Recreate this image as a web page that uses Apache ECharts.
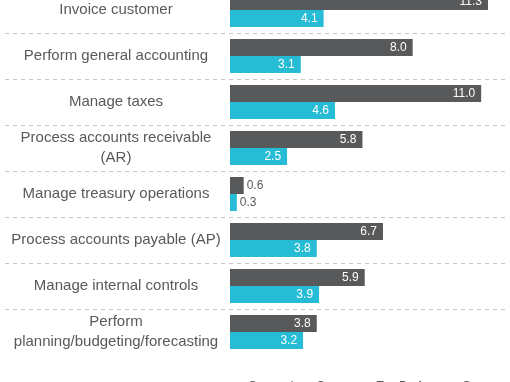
<!DOCTYPE html>
<html>
<head>
<meta charset="utf-8">
<script src="https://cdn.jsdelivr.net/npm/echarts@6/dist/echarts.min.js"></script>
<style>
  html, body { margin: 0; padding: 0; background: #ffffff; overflow: hidden; }
  #wrap { width: 510px; height: 382px; overflow: hidden; position: relative; }
  #chart { width: 510px; height: 395px; position: absolute; left: 0; top: -13px; }
</style>
</head>
<body>
<div id="wrap"><div id="chart"></div></div>
<script>
const categories = [
  'Invoice customer',
  'Perform general accounting',
  'Manage taxes',
  'Process accounts receivable\n(AR)',
  'Manage treasury operations',
  'Process accounts payable (AP)',
  'Manage internal controls',
  'Perform\nplanning/budgeting/forecasting'
];
const seriesNames = ['Comparison Group', 'Top Performers Group'];
const comparisonValues = [11.3, 8.0, 11.0, 5.8, 0.6, 6.7, 5.9, 3.8];
const topPerformerValues = [4.1, 3.1, 4.6, 2.5, 0.3, 3.8, 3.9, 3.2];

const FONT = 'Liberation Sans, Arial, Helvetica, sans-serif';
const TEXT = '#595959';
const DARK = '#58595b';
const CYAN = '#26bcd6';
const BAND = 46;

function withLabels(values) {
  return values.map(v => v < 1
    ? { value: v, label: { position: 'right', distance: 3, color: TEXT } }
    : { value: v });
}

const chart = echarts.init(document.getElementById('chart'));
chart.setOption({
  animation: false,
  backgroundColor: '#ffffff',
  textStyle: { fontFamily: FONT },
  legend: {
    data: seriesNames,
    left: 228,
    top: 389,
    itemWidth: 10,
    itemHeight: 10,
    itemGap: 12,
    icon: 'rect',
    textStyle: { fontFamily: FONT, fontSize: 12, color: TEXT }
  },
  grid: [
    { left: 5, right: 5, top: 0, height: BAND * (categories.length - 1), containLabel: false },
    { left: 230, right: 6, top: 0, height: BAND * categories.length, containLabel: false }
  ],
  xAxis: [
    { gridIndex: 0, type: 'value', min: 0, max: 1, show: false },
    {
      gridIndex: 1, type: 'value', min: 0, max: 12,
      axisLine: { show: false }, axisTick: { show: false },
      axisLabel: { show: false }, splitLine: { show: false }
    }
  ],
  yAxis: [
    {
      gridIndex: 0, type: 'value', min: 0, max: categories.length - 1, interval: 1,
      inverse: true,
      axisLine: { show: false }, axisTick: { show: false }, axisLabel: { show: false },
      splitLine: { show: true, lineStyle: { color: '#c8c8c8', width: 1, type: [4, 4] } }
    },
    {
      gridIndex: 1, type: 'category', data: categories, inverse: true,
      axisLine: { show: false }, axisTick: { show: false },
      splitLine: { show: false },
      axisLabel: {
        align: 'center', margin: 114,
        fontFamily: FONT, fontSize: 15, lineHeight: 19.5, color: TEXT
      }
    }
  ],
  series: [
    {
      name: seriesNames[0], type: 'bar', xAxisIndex: 1, yAxisIndex: 1,
      data: withLabels(comparisonValues),
      barWidth: 17, barGap: '0%',
      itemStyle: { color: DARK },
      label: {
        show: true, position: 'insideRight', distance: 6,
        color: '#ffffff', fontFamily: FONT, fontSize: 12,
        formatter: p => p.value.toFixed(1)
      }
    },
    {
      name: seriesNames[1], type: 'bar', xAxisIndex: 1, yAxisIndex: 1,
      data: withLabels(topPerformerValues),
      barWidth: 17, barGap: '0%',
      itemStyle: { color: CYAN },
      label: {
        show: true, position: 'insideRight', distance: 6,
        color: '#ffffff', fontFamily: FONT, fontSize: 12,
        formatter: p => p.value.toFixed(1)
      }
    }
  ]
});
</script>
</body>
</html>
